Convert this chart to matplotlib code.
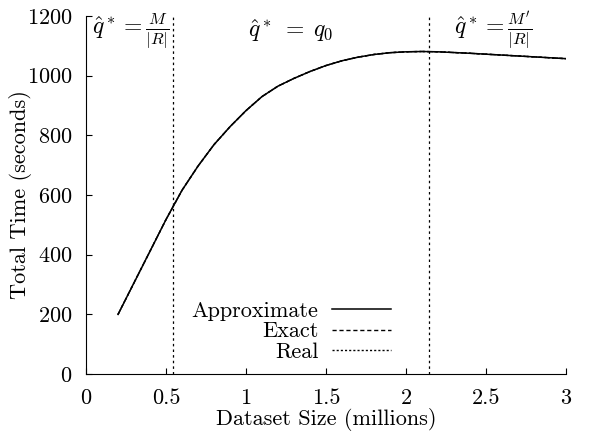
import matplotlib
matplotlib.use("Agg")
import matplotlib.pyplot as plt

# Dataset size (millions) and total time (seconds)
SIZES = [0.2, 0.3, 0.4, 0.5, 0.6, 0.7, 0.8, 0.9, 1.0, 1.1, 1.2, 1.3, 1.4,
         1.5, 1.6, 1.7, 1.8, 1.9, 2.0, 2.1, 2.2, 2.4, 2.6, 2.8, 3.0]
APPROX = [200, 306, 412, 518, 616, 697, 769, 829, 883, 930, 965, 991, 1014,
          1034, 1050, 1062, 1071, 1077, 1080, 1081, 1080, 1075, 1069, 1063, 1057]
EXACT = APPROX
REAL = APPROX

# Regime boundaries
BOUNDS = [0.546, 2.146]
REGIONS = [r"$\hat{q}^* = \frac{M}{|R|}$", r"$\hat{q}^*\;=\;q_0$",
           r"$\hat{q}^* = \frac{M'}{|R|}$"]
REGION_X = [0.035, 1.01, 2.30]

XTICKS = [0, 0.5, 1, 1.5, 2, 2.5, 3]
XTICKLABELS = ["0", "0.5", "1", "1.5", "2", "2.5", "3"]
YTICKS = [0, 200, 400, 600, 800, 1000, 1200]

plt.rcParams["font.family"] = "serif"
plt.rcParams["font.serif"] = ["cmr10"]
plt.rcParams["mathtext.fontset"] = "cm"
plt.rcParams["axes.formatter.use_mathtext"] = True
plt.rcParams["font.size"] = 16

fig = plt.figure(figsize=(5.92, 4.32), dpi=100)
ax = fig.add_axes([0.1453, 0.134, 0.8108, 0.829])

ax.plot(SIZES, REAL, color="black", lw=1.0, ls=(0, (1.5, 1.5)), label="Real")
ax.plot(SIZES, EXACT, color="black", lw=1.0, ls=(0, (3, 2)), label="Exact")
ax.plot(SIZES, APPROX, color="black", lw=1.1, label="Approximate")

for b in BOUNDS:
    ax.axvline(b, color="black", lw=0.9, ls=(0, (2, 2.5)))

for x, s in zip(REGION_X, REGIONS):
    ax.text(x, 1150, s, fontsize=17, va="center", ha="left")

ax.set_xlim(0, 3)
ax.set_ylim(0, 1200)
ax.set_xticks(XTICKS)
ax.set_xticklabels(XTICKLABELS)
ax.set_yticks(YTICKS)
ax.set_xlabel("Dataset Size (millions)", labelpad=0)
ax.set_ylabel("Total Time (seconds)")
ax.yaxis.set_label_coords(-0.112, 0.5)
ax.tick_params(direction="in", length=4, width=0.8)
ax.tick_params(axis="x", pad=10)
ax.tick_params(axis="y", pad=10)
ax.spines["top"].set_visible(False)
ax.spines["right"].set_visible(False)

handles, labels = ax.get_legend_handles_labels()
order = [2, 1, 0]
ax.legend([handles[i] for i in order], [labels[i] for i in order],
          loc="lower left", bbox_to_anchor=(0.178, -0.022), frameon=False,
          markerfirst=False, handlelength=2.65, labelspacing=0.05,
          handletextpad=0.6, fontsize=16)

fig.savefig("out.png", dpi=100)
